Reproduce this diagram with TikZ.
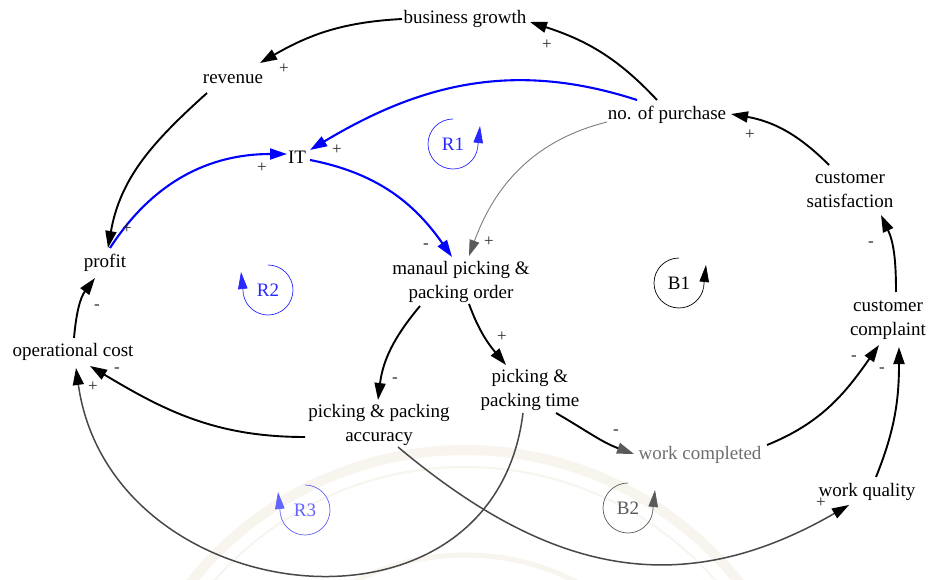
\documentclass[tikz,border=0pt]{standalone}
\usepackage{fontspec}
\setmainfont{Liberation Serif}
\usetikzlibrary{arrows.meta}

\definecolor{linkblue}{RGB}{0,0,255}
\definecolor{loopblue}{RGB}{40,40,255}
\definecolor{loopblueb}{RGB}{100,100,255}
\definecolor{arcgray}{RGB}{72,72,72}
\definecolor{midgray}{RGB}{125,125,125}
\definecolor{tipgray}{RGB}{90,90,90}
\definecolor{textgray}{RGB}{110,110,110}
\definecolor{signgray}{RGB}{40,40,40}
\definecolor{sealtone}{RGB}{248,245,239}

% loop marker, arrow on the right (counter-clockwise)
\newcommand\loopccw[5]{%
  \draw[loopline,#4] (#1,#2) ++(90:25) arc[start angle=90,end angle=350,radius=25];
  \draw[#4,line width=0.7pt,-{Triangle[length=17pt,width=9.5pt]}] (#1+24.6,#2-4.3) -- (#1+27,#2+18);
  \node[var,text=#4] (#5) at (#1,#2) {#3};
}
% loop marker, arrow on the left (clockwise)
\newcommand\loopcw[5]{%
  \draw[loopline,#4] (#1,#2) ++(90:25) arc[start angle=90,end angle=-170,radius=25];
  \draw[#4,line width=0.7pt,-{Triangle[length=17pt,width=9.5pt]}] (#1-24.6,#2-4.3) -- (#1-27,#2+18);
  \node[var,text=#4] (#5) at (#1,#2) {#3};
}

\begin{document}
\begin{tikzpicture}[x=1pt,y=1pt,
  var/.style={font=\fontsize{19}{23.5}\selectfont, align=center, inner sep=0pt},
  sign/.style={font=\fontsize{17}{17}\selectfont, inner sep=0pt, text=signgray},
  link/.style={-{Triangle[length=17pt,width=11pt]}, line width=1.9pt, black},
  bluelink/.style={-{Triangle[length=17pt,width=11pt]}, line width=2.1pt, linkblue},
  thinlink/.style={-{Triangle[length=16pt,width=10pt,tipgray]}, line width=0.9pt, midgray},
  arclink/.style={-{Triangle[length=17pt,width=11pt,black]}, line width=1.5pt, arcgray},
  loopline/.style={line width=0.7pt},
]
\useasboundingbox (0,0) rectangle (928,-580);
\fill[white] (0,0) rectangle (928,-580);

% faint seal in the background
\begin{scope}
  \clip (0,0) rectangle (928,-580);
  \draw[sealtone, line width=10pt] (465,-800) circle[radius=350];
  \draw[sealtone, line width=2pt] (465,-800) circle[radius=333];
  \draw[sealtone, line width=5pt] (465,-800) circle[radius=245];
\end{scope}

% variables
\node[var] (bg) at (465,-19) {business growth};
\node[var] (rev) at (233,-79) {revenue};
\node[var] (np) at (667,-115) {no. of purchase};
\node[var] (it) at (297,-157) {IT};
\node[var] (prof) at (105,-263) {profit};
\node[var] (oc) at (73,-352) {operational cost};
\node[var] (mp) at (461,-282) {manaul picking \&\\packing order};
\node[var] (pt) at (530,-390) {picking \&\\packing time};
\node[var] (pa) at (379,-425) {picking \& packing\\accuracy};
\node[var, text=textgray] (wc) at (700,-455) {work completed};
\node[var] (wq) at (867,-492) {work quality};
\node[var] (cc) at (888,-320) {customer\\complaint};
\node[var] (cs) at (850,-190) {customer\\satisfaction};

% causal links
\draw[link] ([shift={(-10,15)}]np.center) to[out=133,in=-18] ([shift={(65,-3)}]bg.center);
\draw[link] ([shift={(-63,0)}]bg.center) to[out=183,in=30] ([shift={(27,16)}]rev.center);
\draw[link] ([shift={(-26,-14)}]rev.center) to[out=222,in=80] ([shift={(3,15)}]prof.center);
\draw[bluelink] ([shift={(5,15)}]prof.center) to[out=57,in=180] ([shift={(-10,3)}]it.center);
\draw[bluelink] ([shift={(-30,15)}]np.center) to[out=162,in=31] ([shift={(13,7)}]it.center);
\draw[bluelink] ([shift={(13,-3)}]it.center) to[out=-11,in=125] ([shift={(-9,25)}]mp.center);
\draw[thinlink] ([shift={(-60,-7)}]np.center) to[out=194,in=70] ([shift={(8,26)}]mp.center);
\draw[link] ([shift={(-21,25)}]cs.center) to[out=135,in=-10] ([shift={(64,1)}]np.center);
\draw[link] ([shift={(8,28)}]cc.center) to[out=90,in=-65] ([shift={(31,-25)}]cs.center);
\draw[link] ([shift={(67,10)}]wc.center) to[out=22,in=235] ([shift={(-9,-25)}]cc.center);
\draw[link] ([shift={(9,15)}]wq.center) to[out=68,in=-90] ([shift={(11,-27)}]cc.center);
\draw[link] ([shift={(8,-22)}]mp.center) to[out=-70,in=130] ([shift={(-24,25)}]pt.center);
\draw[link, -{Triangle[length=17pt,width=11pt,tipgray]}] ([shift={(26,-23)}]pt.center) to[out=-30,in=160] ([shift={(-66,1)}]wc.center);
\draw[link] ([shift={(-41,-24)}]mp.center) to[out=230,in=83] ([shift={(-1,25)}]pa.center);
\draw[link] ([shift={(-74,-12)}]pa.center) to[out=180,in=-31] ([shift={(17,-14)}]oc.center);
\draw[link] ([shift={(1,14)}]oc.center) to[out=85,in=233] ([shift={(-10,-15)}]prof.center);
\draw[arclink] ([shift={(-7,-23)}]pt.center) to[out=-97,in=-82,looseness=1.4] ([shift={(3,-16)}]oc.center);
\draw[arclink] ([shift={(19,-22)}]pa.center) to[out=-40,in=210,looseness=1.1] ([shift={(-18,-13)}]wq.center);

% link polarities
\node[sign] (s1) at (547,-45) {+};
\node[sign] (s2) at (284,-69) {+};
\node[sign] (s3) at (127,-229) {+};
\node[sign] (s4) at (262,-168) {+};
\node[sign] (s5) at (337,-150) {+};
\node[sign] (s6) at (426,-246) {-};
\node[sign] (s7) at (489,-242) {+};
\node[sign] (s8) at (750,-135) {+};
\node[sign] (s9) at (871,-244) {-};
\node[sign] (s10) at (854,-358) {-};
\node[sign] (s11) at (882,-370) {-};
\node[sign] (s12) at (502,-337) {+};
\node[sign] (s13) at (616,-432) {-};
\node[sign] (s14) at (395,-380) {-};
\node[sign] (s15) at (117,-370) {-};
\node[sign] (s16) at (97,-307) {-};
\node[sign] (s17) at (93,-387) {+};
\node[sign] (s18) at (821,-503) {+};

% loop markers
\loopccw{453}{-144}{R1}{loopblue}{r1}
\loopcw{268}{-290}{R2}{loopblue}{r2}
\loopcw{305}{-510}{R3}{loopblueb}{r3}
\loopccw{679}{-283}{B1}{black}{b1}
\loopccw{628}{-508}{B2}{tipgray}{b2}
\end{tikzpicture}
\end{document}
